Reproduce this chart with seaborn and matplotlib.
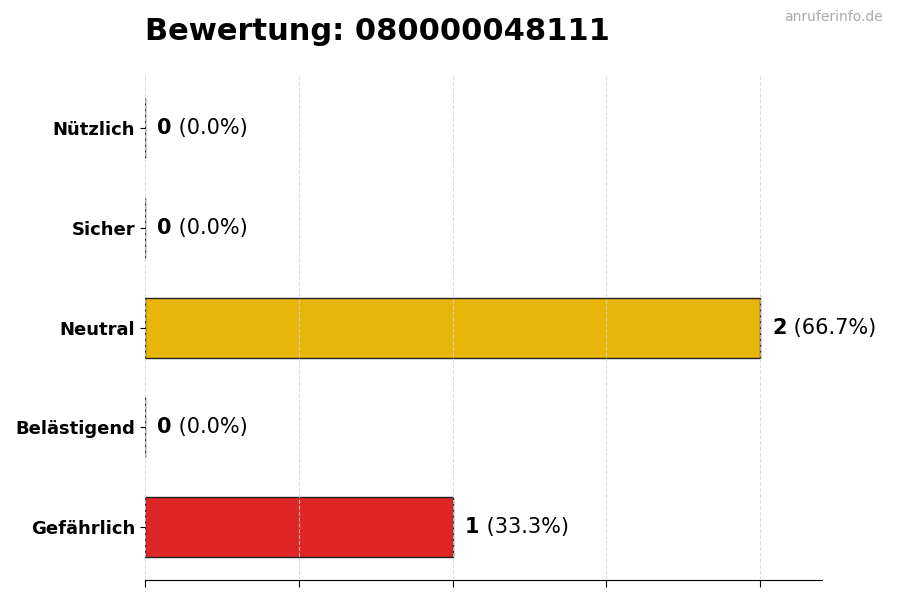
import pandas as pd
import seaborn as sns
import matplotlib.pyplot as plt

categories = ['Nützlich', 'Sicher', 'Neutral', 'Belästigend', 'Gefährlich']
counts = [0, 0, 2, 0, 1]
colors = ['#2E9E44', '#7CC242', '#E8B50A', '#F07E1E', '#DE2626']
title = 'Bewertung: 080000048111'
watermark = 'anruferinfo.de'

total = sum(counts)
df = pd.DataFrame({'Kategorie': categories, 'Anzahl': counts})

sns.set_style('white')
plt.rcParams['font.family'] = ['DejaVu Sans']
plt.rcParams['text.color'] = 'black'
plt.rcParams['xtick.color'] = 'black'
plt.rcParams['ytick.color'] = 'black'

fig = plt.figure(figsize=(9, 6), dpi=100)
ax = fig.add_axes([0.161, 0.033, 0.752, 0.842])

sns.barplot(data=df, x='Anzahl', y='Kategorie', hue='Kategorie', palette=colors,
            orient='h', width=0.6, edgecolor='#222222', linewidth=1.0,
            legend=False, saturation=1, ax=ax)

ax.set_xlim(0, 2.2)
ax.set_ylim(4.53, -0.53)
ax.set_xticks([0, 0.5, 1, 1.5, 2])
ax.set_xticklabels([])
ax.tick_params(axis='x', bottom=True, length=5, width=0.8, color='black')
ax.tick_params(axis='y', left=True, length=3.5, width=0.8, color='black',
               labelsize=13, pad=3.5, labelcolor='black')
for lab in ax.get_yticklabels():
    lab.set_fontweight('bold')
ax.set_xlabel('')
ax.set_ylabel('')
ax.xaxis.grid(True, linestyle='--', color='#d5d5d5', linewidth=0.8, alpha=0.8)
ax.set_axisbelow(False)
for s in ['top', 'right', 'left']:
    ax.spines[s].set_visible(False)
ax.spines['bottom'].set_color('black')
ax.spines['bottom'].set_linewidth(0.8)

fig.canvas.draw()
renderer = fig.canvas.get_renderer()
for i, v in enumerate(counts):
    pct = v / total * 100
    t1 = ax.annotate(str(v), xy=(v, i), xytext=(9, 0), textcoords='offset points',
                     va='center', ha='left', fontsize=15, fontweight='bold', color='black')
    bb = t1.get_window_extent(renderer)
    w_pt = bb.width * 72 / fig.dpi
    ax.annotate(f' ({pct:.1f}%)', xy=(v, i), xytext=(9 + w_pt, 0),
                textcoords='offset points', va='center', ha='left', fontsize=15,
                color='black')

fig.text(0.161, 0.948, title, fontsize=22, fontweight='bold', ha='left', va='center',
         color='black')
fig.text(0.981, 0.971, watermark, fontsize=10, color='#aaaaaa', ha='right', va='center')

fig.savefig('out.png', dpi=100)
